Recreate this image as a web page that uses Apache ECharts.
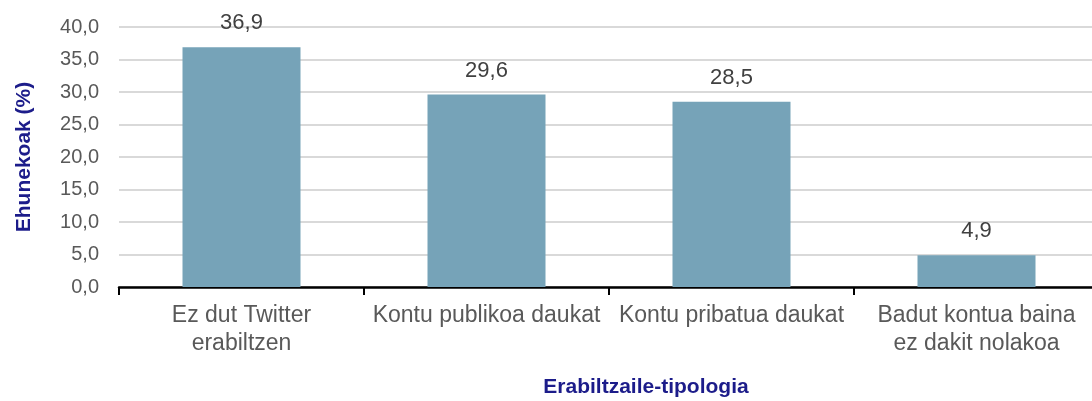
<!DOCTYPE html>
<html>
<head>
<meta charset="utf-8">
<script src="https://cdn.jsdelivr.net/npm/echarts@6/dist/echarts.min.js"></script>
<style>
html,body{margin:0;padding:0;background:#fff;}
#chart{width:1092px;height:401px;}
</style>
</head>
<body>
<div id="chart"></div>
<script>
const categories = ["Ez dut Twitter\nerabiltzen", "Kontu publikoa daukat", "Kontu pribatua daukat", "Badut kontua baina\nez dakit nolakoa"];
const values = [36.9, 29.6, 28.5, 4.9];
const yTicks = { min: 0, max: 40, interval: 5 };
const yTitle = "Ehunekoak (%)";
const xTitle = "Erabiltzaile-tipologia";

const fmt = v => Number(v).toFixed(1).replace('.', ',');
const font = "'Liberation Sans', Arial, sans-serif";

const chart = echarts.init(document.getElementById('chart'), null, { renderer: 'canvas' });
chart.setOption({
  animation: false,
  backgroundColor: '#ffffff',
  grid: { left: 119, right: -7, top: 27, bottom: 114, containLabel: false, outerBoundsMode: 'none' },
  xAxis: {
    type: 'category',
    data: categories,
    name: xTitle,
    nameLocation: 'middle',
    nameGap: 90,
    nameTextStyle: { fontFamily: font, fontSize: 21, fontWeight: 'bold', color: '#1c1c8a', padding: [0, 0, 0, 74] },
    axisLine: { lineStyle: { color: '#000', width: 2.5 } },
    axisTick: { show: true, length: 8, lineStyle: { color: '#000', width: 2 } },
    axisLabel: { interval: 0, fontFamily: font, fontSize: 23, color: '#595959', margin: 15, lineHeight: 28, align: 'center' }
  },
  yAxis: {
    type: 'value',
    min: yTicks.min, max: yTicks.max, interval: yTicks.interval,
    name: yTitle,
    nameLocation: 'middle',
    nameGap: 84,
    nameTextStyle: { fontFamily: font, fontSize: 21, fontWeight: 'bold', color: '#1c1c8a' },
    axisLine: { show: false },
    axisTick: { show: false },
    axisLabel: { formatter: fmt, fontFamily: font, fontSize: 20, color: '#595959', margin: 20 },
    splitLine: { lineStyle: { color: '#d9d9d9', width: 2 } }
  },
  series: [{
    type: 'bar',
    data: values,
    barWidth: 118,
    itemStyle: { color: '#76a3b8' },
    label: { show: true, position: 'top', distance: 13, formatter: p => fmt(p.value), fontFamily: font, fontSize: 22, color: '#404040' }
  }]
});
</script>
</body>
</html>
